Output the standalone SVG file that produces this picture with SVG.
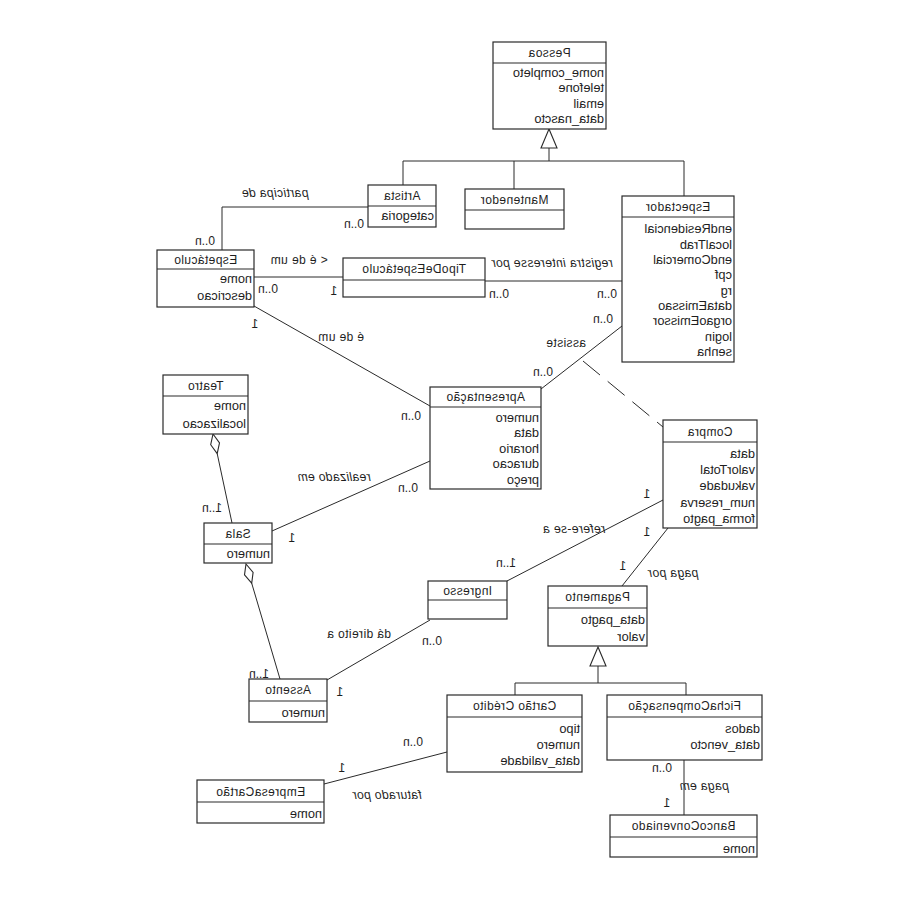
<svg xmlns="http://www.w3.org/2000/svg" width="900" height="900" viewBox="0 0 900 900">
  <style>
    .box { fill: #ffffff; stroke: #2a2a2a; stroke-width: 1.2; }
    .sep { stroke: #2a2a2a; stroke-width: 1.2; fill: none; }
    .ln { stroke: #2a2a2a; stroke-width: 1; fill: none; }
    .dash { stroke: #2a2a2a; stroke-width: 1; fill: none; stroke-dasharray: 22 10; }
    .head { fill: #ffffff; stroke: #2a2a2a; stroke-width: 1.1; }
    text { font-family: "Liberation Sans", Arial, sans-serif; fill: #1e1e1e; }
    .t { font-size: 12px; text-anchor: middle; letter-spacing: 0.4px; }
    .a { font-size: 12.8px; text-anchor: start; }
    .m { font-size: 12px; text-anchor: middle; }
    .l { font-size: 12px; text-anchor: middle; letter-spacing: 0.4px; }
    .i { font-style: italic; }
  </style>

  <rect width="900" height="900" fill="#ffffff"/>

  <!-- connectors -->
  <g id="connectors">
    <!-- generalization: Pessoa -->
    <polygon class="head" points="549,129 541,148 557,148"/>
    <path class="ln" d="M549,148 V161 M403,161 H684 M403,161 V185 M514,161 V189 M684,161 V196"/>
    <!-- participa de -->
    <polyline class="ln" points="368,207 222,207 222,250"/>
    <!-- é de um (tipo) -->
    <line class="ln" x1="254" y1="277" x2="343" y2="277"/>
    <!-- registra interesse por -->
    <line class="ln" x1="485" y1="281" x2="622" y2="281"/>
    <!-- é de um -->
    <line class="ln" x1="254" y1="306" x2="430" y2="406"/>
    <!-- assiste -->
    <line class="ln" x1="622" y1="326" x2="541" y2="389"/>
    <!-- association class link -->
    <line class="dash" x1="583" y1="361" x2="663" y2="427"/>
    <!-- realizado em -->
    <line class="ln" x1="272" y1="531" x2="430" y2="461"/>
    <!-- Teatro aggregates Sala -->
    <polygon class="head" points="213,434 219.5,442.9 217.2,453.6 210.7,444.7"/>
    <line class="ln" x1="217.2" y1="453.6" x2="232" y2="523"/>
    <!-- Sala aggregates Assento -->
    <polygon class="head" points="246,564 253.1,572.3 251.7,583.2 244.5,574.9"/>
    <line class="ln" x1="251.7" y1="583.2" x2="280" y2="679"/>
    <!-- dá direito a -->
    <line class="ln" x1="327" y1="680" x2="430" y2="620"/>
    <!-- refere-se a -->
    <line class="ln" x1="507" y1="581" x2="663" y2="500"/>
    <!-- paga por -->
    <line class="ln" x1="668" y1="528" x2="622" y2="586"/>
    <!-- generalization: Pagamento -->
    <polygon class="head" points="598,647 590,666 606,666"/>
    <path class="ln" d="M598,666 V683 M515,683 H686 M515,683 V695 M686,683 V695"/>
    <!-- faturado por -->
    <line class="ln" x1="324" y1="784" x2="447" y2="752"/>
    <!-- paga em -->
    <line class="ln" x1="684" y1="760" x2="684" y2="815"/>
  </g>

  <!-- class boxes -->
  <g id="pessoa"><rect class="box" x="493" y="42" width="113" height="87"/><line class="sep" x1="493" y1="63" x2="606" y2="63"/></g>
  <g id="artista"><rect class="box" x="368" y="185" width="68" height="42"/><line class="sep" x1="368" y1="206" x2="436" y2="206"/></g>
  <g id="mantenedor"><rect class="box" x="465" y="189" width="99" height="40"/><line class="sep" x1="465" y1="210" x2="564" y2="210"/></g>
  <g id="espectador"><rect class="box" x="622" y="196" width="112" height="166"/><line class="sep" x1="622" y1="217" x2="734" y2="217"/></g>
  <g id="espetaculo"><rect class="box" x="157" y="250" width="97" height="57"/><line class="sep" x1="157" y1="269" x2="254" y2="269"/></g>
  <g id="tipoDeEspetaculo"><rect class="box" x="343" y="258" width="142" height="39"/><line class="sep" x1="343" y1="280" x2="485" y2="280"/></g>
  <g id="apresentacao"><rect class="box" x="430" y="387" width="111" height="102"/><line class="sep" x1="430" y1="407" x2="541" y2="407"/></g>
  <g id="compra"><rect class="box" x="663" y="420" width="94" height="108"/><line class="sep" x1="663" y1="442" x2="757" y2="442"/></g>
  <g id="teatro"><rect class="box" x="163" y="375" width="85" height="59"/><line class="sep" x1="163" y1="396" x2="248" y2="396"/></g>
  <g id="sala"><rect class="box" x="204" y="523" width="68" height="40"/><line class="sep" x1="204" y1="544" x2="272" y2="544"/></g>
  <g id="ingresso"><rect class="box" x="428" y="581" width="79" height="38"/><line class="sep" x1="428" y1="600" x2="507" y2="600"/></g>
  <g id="assento"><rect class="box" x="249" y="679" width="78" height="43"/><line class="sep" x1="249" y1="701" x2="327" y2="701"/></g>
  <g id="pagamento"><rect class="box" x="548" y="586" width="99" height="60"/><line class="sep" x1="548" y1="608" x2="647" y2="608"/></g>
  <g id="cartaoCredito"><rect class="box" x="447" y="695" width="135" height="77"/><line class="sep" x1="447" y1="717" x2="582" y2="717"/></g>
  <g id="empresaCartao"><rect class="box" x="197" y="780" width="127" height="43"/><line class="sep" x1="197" y1="802" x2="324" y2="802"/></g>
  <g id="fichaCompensacao"><rect class="box" x="607" y="695" width="155" height="65"/><line class="sep" x1="607" y1="717" x2="762" y2="717"/></g>
  <g id="bancoConveniado"><rect class="box" x="610" y="815" width="147" height="42"/><line class="sep" x1="610" y1="837" x2="757" y2="837"/></g>

  <!-- all lettering is drawn left-right reversed -->
  <g id="texts" transform="scale(-1,1)">
    <!-- Pessoa -->
    <text class="t" x="-549.5" y="57">Pessoa</text>
    <text class="a" x="-604" y="76.5">nome_completo</text>
    <text class="a" x="-604" y="91.5">telefone</text>
    <text class="a" x="-604" y="107.5">email</text>
    <text class="a" x="-604" y="122.5">data_nascto</text>
    <!-- Artista -->
    <text class="t" x="-402" y="200">Artista</text>
    <text class="a" x="-434" y="219.5">categoria</text>
    <!-- Mantenedor -->
    <text class="t" x="-514.5" y="204">Mantenedor</text>
    <!-- Espectador -->
    <text class="t" x="-678" y="211">Espectador</text>
    <text class="a" x="-732" y="232.5">endResidencial</text>
    <text class="a" x="-732" y="248.5">localTrab</text>
    <text class="a" x="-732" y="263.5">endComercial</text>
    <text class="a" x="-732" y="278.5">cpf</text>
    <text class="a" x="-732" y="294.5">rg</text>
    <text class="a" x="-732" y="309.5">dataEmissao</text>
    <text class="a" x="-732" y="324.5">orgaoEmissor</text>
    <text class="a" x="-732" y="340.5">login</text>
    <text class="a" x="-732" y="355.5">senha</text>
    <!-- Espetáculo -->
    <text class="t" x="-205.5" y="264">Espetáculo</text>
    <text class="a" x="-252" y="282.5">nome</text>
    <text class="a" x="-252" y="299.5">descricao</text>
    <!-- TipoDeEspetáculo -->
    <text class="t" x="-414" y="273">TipoDeEspetáculo</text>
    <!-- Apresentação -->
    <text class="t" x="-485.5" y="401">Apresentação</text>
    <text class="a" x="-539" y="421.5">numero</text>
    <text class="a" x="-539" y="436.5">data</text>
    <text class="a" x="-539" y="452.5">horario</text>
    <text class="a" x="-539" y="467.5">duracao</text>
    <text class="a" x="-539" y="483.5">preço</text>
    <!-- Compra -->
    <text class="t" x="-710" y="435.5">Compra</text>
    <text class="a" x="-755" y="457.5">data</text>
    <text class="a" x="-755" y="473.5">valorTotal</text>
    <text class="a" x="-755" y="489.5">vakudade</text>
    <text class="a" x="-755" y="506.5">num_reserva</text>
    <text class="a" x="-755" y="522.5">forma_pagto</text>
    <!-- Teatro -->
    <text class="t" x="-205.5" y="390">Teatro</text>
    <text class="a" x="-246" y="409.5">nome</text>
    <text class="a" x="-246" y="427.5">localizacao</text>
    <!-- Sala -->
    <text class="t" x="-238" y="537.5">Sala</text>
    <text class="a" x="-270" y="557.5">numero</text>
    <!-- Ingresso -->
    <text class="t" x="-467.5" y="594.5">Ingresso</text>
    <!-- Assento -->
    <text class="t" x="-288" y="694">Assento</text>
    <text class="a" x="-325" y="716.5">numero</text>
    <!-- Pagamento -->
    <text class="t" x="-597.5" y="601">Pagamento</text>
    <text class="a" x="-645" y="623.5">data_pagto</text>
    <text class="a" x="-645" y="641">valor</text>
    <!-- Cartão Crédito -->
    <text class="t" x="-514.5" y="710">Cartão Crédito</text>
    <text class="a" x="-580" y="732.5">tipo</text>
    <text class="a" x="-580" y="748.5">numero</text>
    <text class="a" x="-580" y="764.5">data_validade</text>
    <!-- EmpresaCartão -->
    <text class="t" x="-260.5" y="795.5">EmpresaCartão</text>
    <text class="a" x="-322" y="817.5">nome</text>
    <!-- FichaCompensação -->
    <text class="t" x="-684.5" y="710">FichaCompensação</text>
    <text class="a" x="-760" y="733">dados</text>
    <text class="a" x="-760" y="749">data_vencto</text>
    <!-- BancoConveniado -->
    <text class="t" x="-683.5" y="830">BancoConveniado</text>
    <text class="a" x="-755" y="852.5">nome</text>

    <!-- association names -->
    <text class="l i" x="-275" y="197">participa de</text>
    <text class="l" x="-299" y="264">&lt; é de um</text>
    <text class="l i" x="-552" y="267">registra interesse por</text>
    <text class="l" x="-341" y="341">é de um</text>
    <text class="l" x="-566" y="347">assiste</text>
    <text class="l i" x="-334" y="481">realizado em</text>
    <text class="l" x="-359" y="638">dá direito a</text>
    <text class="l i" x="-574" y="533">refere-se a</text>
    <text class="l i" x="-673" y="577">paga por</text>
    <text class="l i" x="-387" y="799">faturado por</text>
    <text class="l i" x="-704" y="790">paga em</text>

    <!-- multiplicities -->
    <text class="m" x="-354" y="228">0..n</text>
    <text class="m" x="-205" y="245">0..n</text>
    <text class="m" x="-268" y="293">0..n</text>
    <text class="m" x="-334" y="295">1</text>
    <text class="m" x="-499" y="298">0..n</text>
    <text class="m" x="-607" y="298">0..n</text>
    <text class="m" x="-255" y="328">1</text>
    <text class="m" x="-411" y="420">0..n</text>
    <text class="m" x="-543" y="376">0..n</text>
    <text class="m" x="-603" y="323">0..n</text>
    <text class="m" x="-408" y="492">0..n</text>
    <text class="m" x="-212" y="512">1..n</text>
    <text class="m" x="-292" y="542">1</text>
    <text class="m" x="-506" y="567">1..n</text>
    <text class="m" x="-432" y="645">0..n</text>
    <text class="m" x="-259" y="678">1..n</text>
    <text class="m" x="-340" y="696">1</text>
    <text class="m" x="-647" y="498">1</text>
    <text class="m" x="-647" y="536">1</text>
    <text class="m" x="-623" y="570">1</text>
    <text class="m" x="-413" y="746">0..n</text>
    <text class="m" x="-342" y="772">1</text>
    <text class="m" x="-662" y="772">0..n</text>
    <text class="m" x="-667" y="807">1</text>
  </g>
</svg>
